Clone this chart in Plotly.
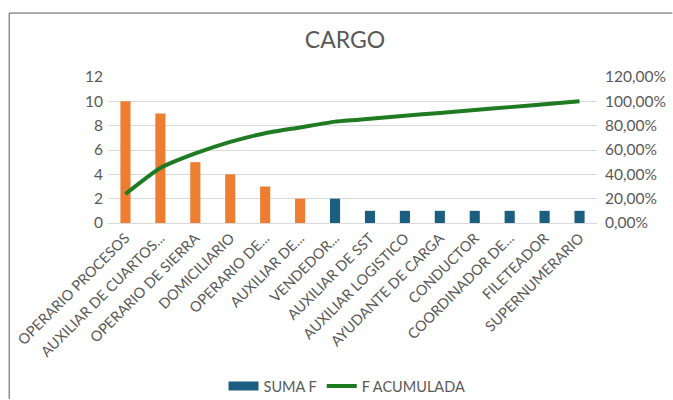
import plotly.graph_objects as go

categories = ["OPERARIO PROCESOS", "AUXILIAR DE CUARTOS...", "OPERARIO DE SIERRA",
              "DOMICILIARIO", "OPERARIO DE...", "AUXILIAR DE...", "VENDEDOR...",
              "AUXILIAR DE SST", "AUXILIAR LOGISTICO", "AYUDANTE DE CARGA",
              "CONDUCTOR", "COORDINADOR DE...", "FILETEADOR", "SUPERNUMERARIO"]
suma_f = [10, 9, 5, 4, 3, 2, 2, 1, 1, 1, 1, 1, 1, 1]
f_acumulada = [0.2381, 0.4524, 0.5714, 0.6667, 0.7381, 0.7857, 0.8333,
               0.8571, 0.8810, 0.9048, 0.9286, 0.9524, 0.9762, 1.0]
bar_colors = ["#ED7D31"] * 6 + ["#1B5E80"] * 8

FONT = "Lato"
GRAY = "#595959"

fig = go.Figure()
fig.add_trace(go.Bar(x=categories, y=suma_f, name="SUMA F",
                     marker=dict(color=bar_colors, line=dict(width=0)),
                     width=0.29, showlegend=False))
fig.add_trace(go.Scatter(x=[None], y=[None], name="SUMA F", mode="lines",
                         line=dict(color="#1B5E80", width=9), showlegend=True))
fig.add_trace(go.Scatter(x=categories, y=f_acumulada, name="F ACUMULADA", yaxis="y2",
                         mode="lines", line=dict(color="#1E7B22", width=4, shape="spline",
                                                 smoothing=0.6)))

L, R, T, B = 107.5, 75.5, 76.7, 176.7
pw = 673 - L - R
ph = 400 - T - B

def px_x(p):
    return (p - L) / pw

def px_y(p):
    return (400 - B - p) / ph

border = dict(color="#595959", width=1)
fig.update_layout(
    width=673, height=400,
    margin=dict(l=L, r=R, t=T, b=B, autoexpand=False),
    paper_bgcolor="white", plot_bgcolor="white",
    separators=",.",
    font=dict(family=FONT, color=GRAY, size=14),
    title=dict(text="CARGO", font=dict(family=FONT, size=23, color=GRAY),
               x=px_x(345), xref="paper", xanchor="center",
               y=1 - 40 / 400, yref="container", yanchor="middle"),
    xaxis=dict(tickangle=-45, tickfont=dict(size=14.5, color=GRAY), showgrid=False,
               showline=True, linecolor="#D9D9D9", linewidth=1, ticks="",
               range=[-0.5, 13.5]),
    yaxis=dict(range=[0, 12], dtick=2, showgrid=True, gridcolor="#D9D9D9", gridwidth=1,
               zeroline=False, showline=False, ticks="", tickfont=dict(size=15.5, color=GRAY),
               ticklabelstandoff=4),
    yaxis2=dict(range=[0, 1.2], dtick=0.2, overlaying="y", side="right", tickformat=".2%",
                showgrid=False, zeroline=False, showline=False, ticks="",
                tickfont=dict(size=15.5, color=GRAY), ticklabelstandoff=7),
    legend=dict(orientation="h", x=px_x(347), xanchor="center", y=px_y(387),
                yanchor="middle", font=dict(size=14.5, color=GRAY), bgcolor="rgba(0,0,0,0)",
                itemwidth=30, tracegroupgap=0),
    shapes=[
        dict(type="line", xref="paper", yref="paper",
             x0=px_x(8.5), x1=px_x(8.5), y0=px_y(12.5), y1=px_y(400), line=border),
        dict(type="line", xref="paper", yref="paper",
             x0=px_x(8.5), x1=px_x(673), y0=px_y(12.5), y1=px_y(12.5), line=border),
    ],
)

fig.write_html("out.html", config={"displayModeBar": False},
               post_script="document.body.style.margin='0';document.body.style.overflow='hidden';")
